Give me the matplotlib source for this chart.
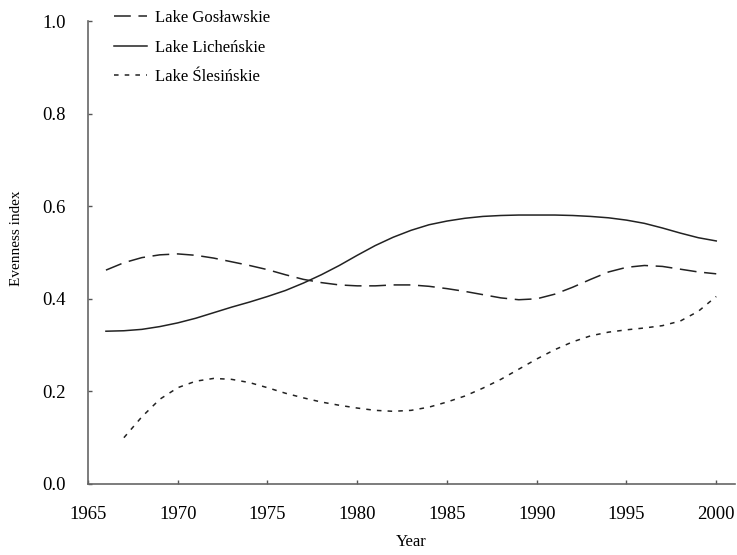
import matplotlib
matplotlib.use("Agg")
import matplotlib.pyplot as plt

# Evenness index of three lakes
years_gos = [1966, 1967, 1968, 1969, 1970, 1971, 1972, 1973, 1974, 1975, 1976, 1977, 1978, 1979, 1980,
             1981, 1982, 1983, 1984, 1985, 1986, 1987, 1988, 1989, 1990, 1991, 1992, 1993, 1994, 1995,
             1996, 1997, 1998, 1999, 2000]
gos = [0.462, 0.478, 0.489, 0.495, 0.497, 0.494, 0.488, 0.480, 0.472, 0.463, 0.452, 0.442, 0.435, 0.430, 0.428,
       0.428, 0.430, 0.430, 0.427, 0.422, 0.416, 0.409, 0.402, 0.398, 0.400, 0.410, 0.425, 0.442, 0.458, 0.468,
       0.472, 0.470, 0.464, 0.458, 0.454]

years_lic = [1966, 1967, 1968, 1969, 1970, 1971, 1972, 1973, 1974, 1975, 1976, 1977, 1978, 1979, 1980,
             1981, 1982, 1983, 1984, 1985, 1986, 1987, 1988, 1989, 1990, 1991, 1992, 1993, 1994, 1995,
             1996, 1997, 1998, 1999, 2000]
lic = [0.330, 0.331, 0.334, 0.340, 0.348, 0.358, 0.370, 0.382, 0.393, 0.405, 0.418, 0.434, 0.452, 0.472, 0.494,
       0.515, 0.533, 0.548, 0.560, 0.568, 0.574, 0.578, 0.580, 0.581, 0.581, 0.581, 0.580, 0.578, 0.575, 0.570,
       0.563, 0.553, 0.542, 0.532, 0.525]

years_sle = [1967, 1968, 1969, 1970, 1971, 1972, 1973, 1974, 1975, 1976, 1977, 1978, 1979, 1980,
             1981, 1982, 1983, 1984, 1985, 1986, 1987, 1988, 1989, 1990, 1991, 1992, 1993, 1994, 1995,
             1996, 1997, 1998, 1999, 2000]
sle = [0.100, 0.145, 0.183, 0.208, 0.222, 0.228, 0.226, 0.219, 0.208, 0.196, 0.186, 0.177, 0.170, 0.164,
       0.159, 0.157, 0.159, 0.166, 0.177, 0.190, 0.207, 0.226, 0.248, 0.270, 0.290, 0.307, 0.320, 0.328, 0.333,
       0.337, 0.342, 0.352, 0.373, 0.405]

x_ticks = [1965, 1970, 1975, 1980, 1985, 1990, 1995, 2000]
y_ticks = [0.0, 0.2, 0.4, 0.6, 0.8, 1.0]

plt.rcParams['font.family'] = ['Liberation Serif', 'DejaVu Serif']
plt.rcParams['font.size'] = 12

fig = plt.figure(figsize=(7.37, 5.55), dpi=100)
ax = fig.add_axes([0.1194, 0.128, 0.878, 0.834])

col = "#222222"
ax.plot(years_gos, gos, color=col, lw=1.1, dashes=(11, 5), label="Lake Gosławskie")
ax.plot(years_lic, lic, color=col, lw=1.1, label="Lake Licheńskie")
ax.plot(years_sle, sle, color=col, lw=1.1, dashes=(3, 4), label="Lake Ślesińskie")

ax.set_xlim(1965, 2001.05)
ax.set_ylim(0, 1.0)
ax.set_xticks(x_ticks)
ax.set_yticks(y_ticks)
ax.set_yticklabels([f"{v:.1f}" for v in y_ticks])
ax.tick_params(direction="in", length=3, width=1, color="#555555", labelsize=13.5)
ax.tick_params(axis="x", pad=16)
ax.tick_params(axis="y", pad=16)

for side in ["top", "right"]:
    ax.spines[side].set_visible(False)
for side in ["left", "bottom"]:
    ax.spines[side].set_color("#666666")
    ax.spines[side].set_linewidth(1.2)

ax.set_xlabel("Year", fontsize=12, labelpad=8)
ax.set_ylabel("Evenness index", fontsize=11)
ax.yaxis.set_label_coords(-0.1, 0.53)

ax.legend(loc="upper left", bbox_to_anchor=(0.017, 1.056), frameon=False, fontsize=12,
          handlelength=2.0, handletextpad=0.45, labelspacing=0.8)

fig.savefig("out.png", dpi=100)
